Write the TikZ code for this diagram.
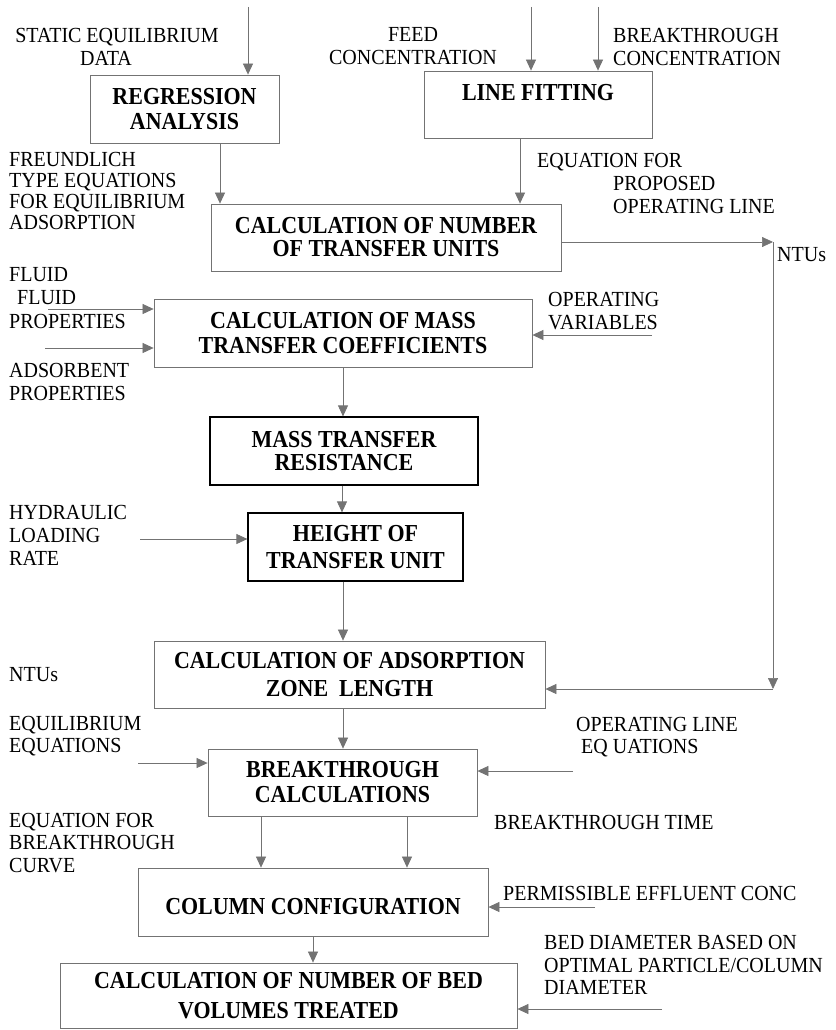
\documentclass[tikz,border=0pt]{standalone}
\usepackage{fontspec}
\setmainfont{Liberation Serif}[FakeStretch=0.93]
\newfontfamily\bx{Liberation Serif}[FakeStretch=0.9]
\usetikzlibrary{arrows.meta}
\tikzset{
  lbl/.style={inner sep=0pt, align=left, anchor=west, font=\fontsize{21.5}{#1}\selectfont},
  lbl/.default=22.5,
  ctr/.style={inner sep=0pt, align=center, font=\fontsize{21.5}{#1}\selectfont},
  ctr/.default=22.5,
  box/.style={draw=black!55, line width=0.8pt, inner sep=0pt, align=center, font=\bx\bfseries\fontsize{24.4}{#1}\selectfont},
  box/.default=25,
  dbox/.style={box=#1, draw=black, line width=1.2pt},
  dbox/.default=25,
  arr/.style={draw=black!55, line width=0.7pt, -{Triangle[length=11pt,width=10pt,fill=black!55]}},
}
\begin{document}
\begin{tikzpicture}[x=1pt,y=-1pt]
\useasboundingbox (0,0) rectangle (835,1030);
% boxes
\node[box=25, minimum width=189pt, minimum height=68pt] (reg) at (184.5,109) {REGRESSION\\ANALYSIS};
\node[box=25, minimum width=228pt, minimum height=67pt] (fit) at (538,104.5) {LINE FITTING\\\mbox{}};
\node[box=23, minimum width=350pt, minimum height=67pt] (ntu) at (386,237.5) {CALCULATION OF NUMBER\\OF TRANSFER UNITS};
\node[box=25, minimum width=378pt, minimum height=68pt] (coef) at (343,333) {CALCULATION OF MASS\\TRANSFER COEFFICIENTS};
\node[dbox=23, minimum width=268pt, minimum height=68pt] (res) at (344,451) {MASS TRANSFER\\RESISTANCE};
\node[dbox=27, minimum width=215pt, minimum height=68pt] (hgt) at (355.5,547) {HEIGHT OF\\TRANSFER UNIT};
\node[box=28, minimum width=391pt, minimum height=67pt] (zone) at (349.5,674.5) {CALCULATION OF ADSORPTION\\ZONE\ \ LENGTH};
\node[box=25, minimum width=269pt, minimum height=67pt] (brk) at (342.5,782.5) {BREAKTHROUGH\\CALCULATIONS};
\node[box=26, minimum width=350pt, minimum height=68pt] (col) at (313,902) {\mbox{}\\COLUMN CONFIGURATION};
\node[box=30, minimum width=457pt, minimum height=65pt] (bed) at (288.5,995.5) {CALCULATION OF NUMBER OF BED\\VOLUMES TREATED};
% labels
\node[ctr=23] (lstatic) at (117,46.5) {STATIC EQUILIBRIUM\\DATA\hspace*{22pt}};
\node[ctr=23] (lfeed) at (413,46.5) {FEED\\CONCENTRATION};
\node[lbl=23] (lbc) at (613,46.5) {BREAKTHROUGH\\CONCENTRATION};
\node[lbl=20.7] (lfr) at (9,191) {FREUNDLICH\\TYPE EQUATIONS\\FOR EQUILIBRIUM\\ADSORPTION};
\node[lbl=23] (leq) at (537,183) {EQUATION FOR\\\hspace*{76pt}PROPOSED\\\hspace*{76pt}OPERATING LINE};
\node[lbl] (lntur) at (777,255) {NTUs};
\node[lbl=23.5] (lfl) at (9,298) {FLUID\\\hspace*{8pt}FLUID\\PROPERTIES};
\node[lbl=23] (lad) at (9,381.5) {ADSORBENT\\PROPERTIES};
\node[lbl=23] (lop) at (548,311.5) {OPERATING\\VARIABLES};
\node[lbl=23] (lhy) at (9,535) {HYDRAULIC\\LOADING\\RATE};
\node[lbl] (lntul) at (9,675) {NTUs};
\node[lbl=22] (leqe) at (9,736) {EQUILIBRIUM\\EQUATIONS};
\node[lbl=22] (lole) at (576,737) {OPERATING LINE\\\hspace*{5pt}EQ UATIONS};
\node[lbl=22.5] (lebc) at (9,843) {EQUATION FOR\\BREAKTHROUGH\\CURVE};
\node[lbl] (lbt) at (494,822) {BREAKTHROUGH TIME};
\node[lbl] (lpe) at (503,893) {PERMISSIBLE EFFLUENT CONC};
\node[lbl=22.5] (lbd) at (544,965) {BED DIAMETER BASED ON\\OPTIMAL PARTICLE/COLUMN\\DIAMETER};
% free ends
\coordinate (inReg) at (248,7);
\coordinate (inFit1) at (531,7);
\coordinate (inFit2) at (598,7);
\coordinate (ntuR) at (773,242);
\coordinate (ntuD) at (773,689);
\coordinate (inFl) at (48,309);
\coordinate (inAd) at (45,348);
\coordinate (inOp) at (652,335);
\coordinate (inHy) at (140,539);
\coordinate (inEq) at (138,763);
\coordinate (inOl) at (573,771);
\coordinate (inPe) at (595,907);
\coordinate (inBd) at (662,1009);
% connectors
\draw[arr] (inReg) -- (inReg |- reg.north);
\draw[arr] (inFit1) -- (inFit1 |- fit.north);
\draw[arr] (inFit2) -- (inFit2 |- fit.north);
\draw[arr] (220,0 |- reg.south) -- (220,0 |- ntu.north);
\draw[arr] (520,0 |- fit.south) -- (520,0 |- ntu.north);
\draw[arr] (ntuR -| ntu.east) -- (ntuR);
\draw[arr] (ntuR) -- (ntuD);
\draw[arr] (ntuD) -- (ntuD -| zone.east);
\draw[arr] (inFl) -- (inFl -| coef.west);
\draw[arr] (inAd) -- (inAd -| coef.west);
\draw[arr] (inOp) -- (inOp -| coef.east);
\draw[arr] (343,0 |- coef.south) -- (343,0 |- res.north);
\draw[arr] (342,0 |- res.south) -- (342,0 |- hgt.north);
\draw[arr] (inHy) -- (inHy -| hgt.west);
\draw[arr] (343,0 |- hgt.south) -- (343,0 |- zone.north);
\draw[arr] (343,0 |- zone.south) -- (343,0 |- brk.north);
\draw[arr] (inEq) -- (inEq -| brk.west);
\draw[arr] (inOl) -- (inOl -| brk.east);
\draw[arr] (261,0 |- brk.south) -- (261,0 |- col.north);
\draw[arr] (407,0 |- brk.south) -- (407,0 |- col.north);
\draw[arr] (inPe) -- (inPe -| col.east);
\draw[arr] (313,0 |- col.south) -- (313,0 |- bed.north);
\draw[arr] (inBd) -- (inBd -| bed.east);
\end{tikzpicture}
\end{document}
